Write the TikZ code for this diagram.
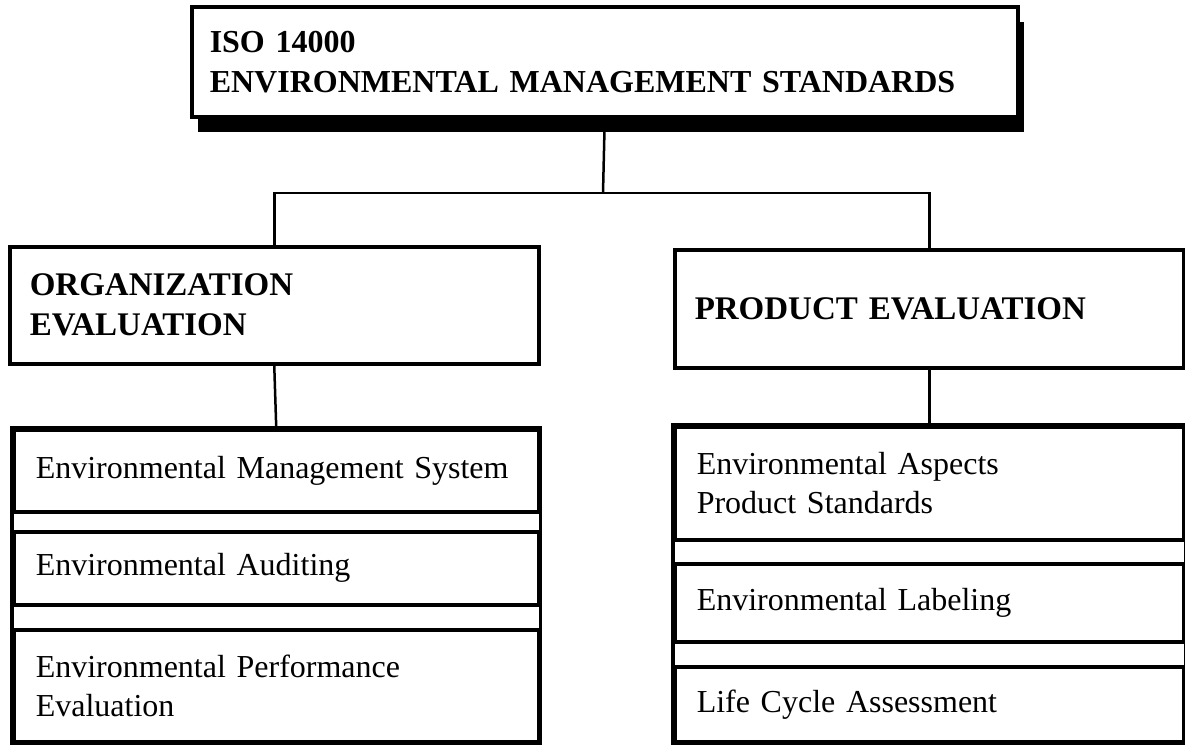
\documentclass[tikz,border=0pt]{standalone}
\usepackage{fontspec}
\setmainfont{Liberation Serif}[WordSpace=0.75]
\usetikzlibrary{shadows}

\tikzset{
  headbox/.style={draw, line width=3.5pt, fill=white, anchor=north west,
    inner xsep=20pt, inner ysep=0pt, align=left,
    font=\bfseries\fontsize{33}{40}\selectfont},
  itembox/.style={draw, line width=3.5pt, anchor=north west,
    inner xsep=22pt, inner ysep=0pt, align=left,
    font=\fontsize{32}{39}\selectfont},
  link/.style={line width=2.5pt},
}

\begin{document}
\begin{tikzpicture}[x=1pt,y=-1pt]
\useasboundingbox (0,0) rectangle (1185,745);

% top of the tree
\node[headbox, text width=790pt, minimum height=110pt, inner xsep=18pt,
  font=\bfseries\fontsize{32}{40}\selectfont,
  drop shadow={opacity=1, fill=black, shadow xshift=6pt, shadow yshift=-15pt}]
  (iso) at (190,5) {ISO 14000\\ENVIRONMENTAL MANAGEMENT STANDARDS};

% the two branches
\node[headbox, text width=489pt, minimum height=117pt] (org) at (8,245)
  {ORGANIZATION\\EVALUATION};
\node[headbox, text width=469pt, minimum height=118pt] (prod) at (673,248)
  {PRODUCT EVALUATION};

% left column
\node[itembox, text width=481pt, minimum height=82pt] (ems) at (12,428)
  {Environmental Management System};
\node[itembox, text width=481pt, minimum height=73pt] (aud) at (12,530)
  {Environmental Auditing};
\node[itembox, text width=481pt, minimum height=112pt] (epe) at (12,628)
  {Environmental Performance\\Evaluation};
\draw[line width=3.5pt] (ems.north west) rectangle (epe.south east);

% right column
\node[itembox, text width=465pt, minimum height=113pt] (eap) at (673,425)
  {Environmental Aspects\\Product Standards};
\node[itembox, text width=465pt, minimum height=78pt] (lab) at (673,562)
  {Environmental Labeling};
\node[itembox, text width=465pt, minimum height=75pt] (lca) at (673,665)
  {Life Cycle Assessment};
\draw[line width=3.5pt] (eap.north west) rectangle (lca.south east);

% connectors
\coordinate (fork) at (603,193);
\draw[link] (iso.south) -- (fork);
\draw[link] (org.north) |- (fork) -| (prod.north);
\draw[link] (org.south) -- (ems.north);
\draw[link] (prod.south) -- (eap.north);
\end{tikzpicture}
\end{document}
